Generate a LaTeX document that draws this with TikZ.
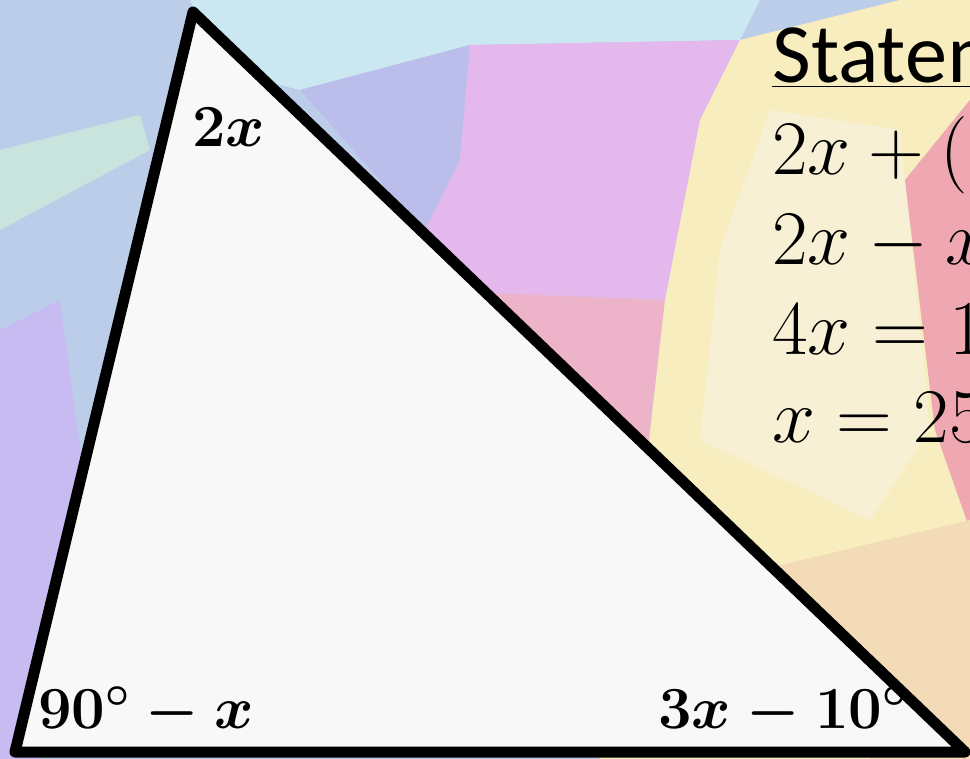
\RequirePackage{fix-cm}
\documentclass[tikz,border=0pt]{standalone}
\usepackage{fontspec}
\setmainfont{Carlito}
\usepackage{tikz}
\usetikzlibrary{positioning}
\definecolor{bgblue}{HTML}{BCCDEA}
\definecolor{bgcyan}{HTML}{CBE8F2}
\definecolor{bgpurple}{HTML}{BBBDEA}
\definecolor{bgmagenta}{HTML}{E4B8EC}
\definecolor{bgrose}{HTML}{ECB3C9}
\definecolor{bgyellow}{HTML}{F7EDBE}
\definecolor{bgcream}{HTML}{F7F0D4}
\definecolor{bgred}{HTML}{EFA8B1}
\definecolor{bgpeach}{HTML}{F4DBB8}
\definecolor{bglilac}{HTML}{C7BBF1}
\definecolor{bggreen}{HTML}{C9E4DC}
\definecolor{trifill}{HTML}{F8F8F8}
\tikzset{
trianglepath/.style={
  draw=black,
  fill=trifill,
  line width=0.22cm,
  line join=round
  },
anglelbl/.style={
  inner sep=0pt,
  anchor=base west,
  font=\fontsize{34}{40}\selectfont\boldmath
  },
stmtline/.style={
  inner sep=0pt,
  anchor=base west,
  font=\fontsize{44}{50}\selectfont
  }
}

\begin{document}
\begin{tikzpicture}[x=0.02cm,y=-0.02cm]

\useasboundingbox (0,0) rectangle (970,759);
\clip (0,0) rectangle (970,759);

% background patches
\fill[bgblue] (0,0) rectangle (970,759);
\fill[bgcyan] (190,0) -- (760,0) -- (740,40) -- (470,45) -- (300,90) -- (220,70) -- cycle;
\fill[bggreen] (0,150) -- (140,115) -- (150,150) -- (0,230) -- cycle;
\fill[bgpurple] (300,90) -- (470,45) -- (460,160) -- (420,260) -- (380,180) -- cycle;
\fill[bgmagenta] (470,45) -- (740,40) -- (700,120) -- (665,300) -- (410,290) -- (410,260) -- (460,160) -- cycle;
\fill[bgrose] (410,290) -- (665,300) -- (640,520) -- (595,560) -- (420,470) -- cycle;
\fill[bgyellow] (740,40) -- (900,0) -- (970,0) -- (970,100) -- (905,180) -- (935,430) -- (970,520)
  -- (970,759) -- (600,759) -- (595,560) -- (640,520) -- (665,300) -- (700,120) -- cycle;
\fill[bgcream] (770,110) -- (900,130) -- (930,430) -- (870,520) -- (700,440) -- (720,250) -- cycle;
\fill[bgred] (905,180) -- (970,100) -- (970,530) -- (935,430) -- cycle;
\fill[bgpeach] (760,570) -- (970,520) -- (970,759) -- (870,759) -- cycle;
\fill[bglilac] (0,330) -- (60,300) -- (95,560) -- (40,759) -- (0,759) -- cycle;

\coordinate (apex) at (193,12);
\coordinate (lft) at (15,752);
\coordinate (rgt) at (965,752);

\path[trianglepath] (apex) -- (lft) -- (rgt) -- cycle;

\node[anglelbl] (lblA) at (192,147) {$2x$};
\node[anglelbl] (lblB) at (38,728) {$90^\circ-x$};
\node[anglelbl] (lblC) at (658,728) {$3x-10^\circ$};

\node[stmtline,font=\fontsize{48}{54}\selectfont] (head) at (772,83) {\underline{Statements}};
\node[stmtline] (eq1) at (772,175) {$2x+(90^\circ-x)+(3x-10^\circ)=180^\circ$};
\node[stmtline] (eq2) at (772,265) {$2x-x+3x+80=180$};
\node[stmtline] (eq3) at (772,355) {$4x=100$};
\node[stmtline] (eq4) at (772,443) {$x=25$};

\end{tikzpicture}
\end{document}
